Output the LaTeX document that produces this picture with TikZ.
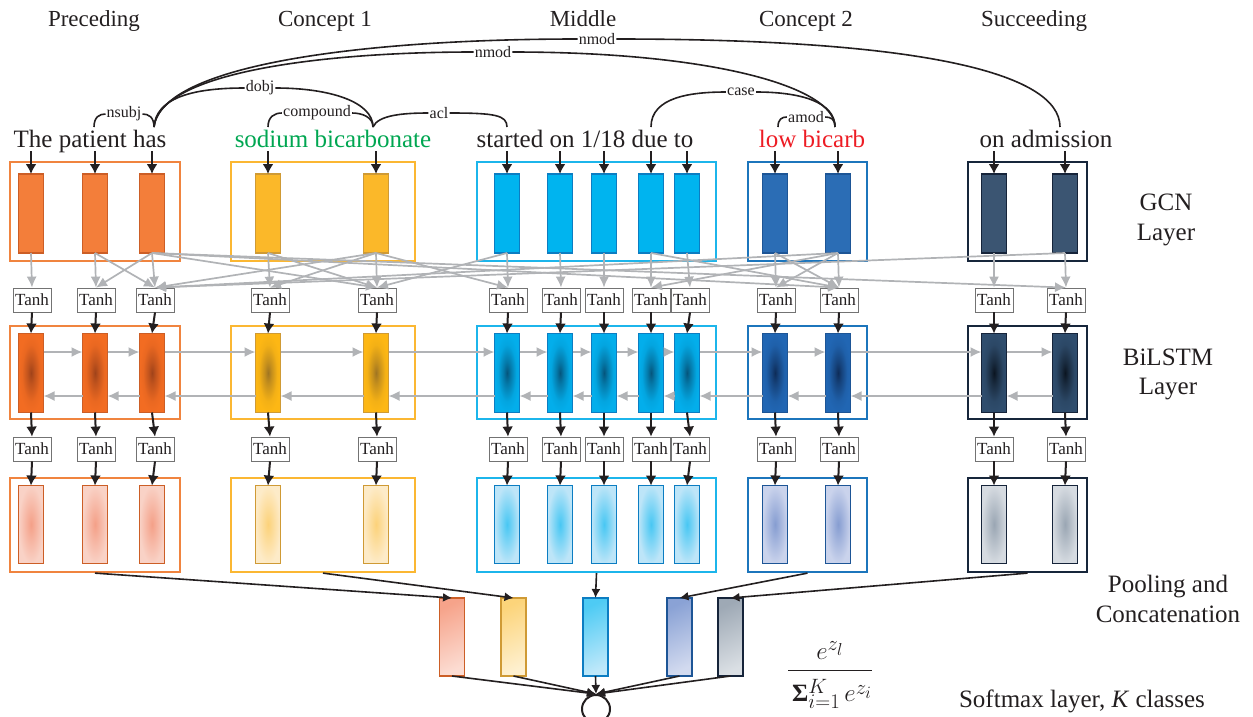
\documentclass[tikz,border=0pt]{standalone}
\usepackage{fontspec}
\setmainfont{Liberation Serif}
\usetikzlibrary{arrows.meta,backgrounds}

\definecolor{ink}{HTML}{231F20}
\definecolor{arrowgray}{HTML}{B1B3B6}
\definecolor{wgreen}{HTML}{00A651}
\definecolor{wred}{HTML}{ED1C24}
% group colours: rc = frame, fl = GCN fill, bd = bar border,
% li/lo = BiLSTM inner/outer, oi/oo = output inner/outer, qt/qb = pooled top/bottom
\definecolor{rcP}{HTML}{F0843F}\definecolor{flP}{HTML}{F37E3A}\definecolor{bdP}{HTML}{CC5E26}
\definecolor{liP}{HTML}{A0431A}\definecolor{loP}{HTML}{F26C22}
\definecolor{oiP}{HTML}{F4A088}\definecolor{ooP}{HTML}{F9D2C6}
\definecolor{qtP}{HTML}{F6A38A}\definecolor{qbP}{HTML}{FCDCD2}
\definecolor{rcC}{HTML}{FBB732}\definecolor{flC}{HTML}{FBB829}\definecolor{bdC}{HTML}{CF9A35}
\definecolor{liC}{HTML}{A07522}\definecolor{loC}{HTML}{FDB714}
\definecolor{oiC}{HTML}{FCD27A}\definecolor{ooC}{HTML}{FDEBC8}
\definecolor{qtC}{HTML}{FCD47A}\definecolor{qbC}{HTML}{FEF0CF}
\definecolor{rcM}{HTML}{1CB5EB}\definecolor{flM}{HTML}{00B4EF}\definecolor{bdM}{HTML}{0C7DC2}
\definecolor{liM}{HTML}{05557C}\definecolor{loM}{HTML}{03AEEB}
\definecolor{oiM}{HTML}{48C7F3}\definecolor{ooM}{HTML}{BDE5F8}
\definecolor{qtM}{HTML}{4ECBF4}\definecolor{qbM}{HTML}{BEE8FA}
\definecolor{rcD}{HTML}{1C75BC}\definecolor{flD}{HTML}{2B6DB5}\definecolor{bdD}{HTML}{1D5596}
\definecolor{liD}{HTML}{0E2C58}\definecolor{loD}{HTML}{2166B3}
\definecolor{oiD}{HTML}{869DD1}\definecolor{ooD}{HTML}{CAD3EC}
\definecolor{qtD}{HTML}{8AA2D5}\definecolor{qbD}{HTML}{D2DAEF}
\definecolor{rcS}{HTML}{17263B}\definecolor{flS}{HTML}{3B5572}\definecolor{bdS}{HTML}{16243A}
\definecolor{liS}{HTML}{0B1521}\definecolor{loS}{HTML}{2F4D6D}
\definecolor{oiS}{HTML}{9AA6B3}\definecolor{ooS}{HTML}{D6DBE1}
\definecolor{qtS}{HTML}{9EA9B5}\definecolor{qbS}{HTML}{DADFE4}

% working colours for the two radial shadings
\colorlet{lsin}{liP}\colorlet{lsout}{loP}
\colorlet{osin}{oiP}\colorlet{osout}{ooP}
\pgfdeclareradialshading[lsin,lsout]{lstmshade}{\pgfpoint{0bp}{0bp}}{%
  color(0bp)=(lsin); color(7bp)=(lsin!60!lsout); color(18bp)=(lsout!90!lsin);
  color(25bp)=(lsout); color(50bp)=(lsout)}
\pgfdeclareradialshading[osin,osout]{outshade}{\pgfpoint{0bp}{0bp}}{%
  color(0bp)=(osin); color(25bp)=(osout); color(50bp)=(osout)}

\newcommand\ttlfont{\fontsize{23}{27}\selectfont}
\newcommand\wordfont{\fontsize{25}{29}\selectfont}
\newcommand\layfont{\fontsize{25}{29}\selectfont}
\newcommand\deplfont{\fontsize{16}{18}\selectfont}
\newcommand\tanhfont{\fontsize{17}{19}\selectfont}

\begin{document}
\begin{tikzpicture}[x=1pt,y=-1pt,
  bar/.style={line width=1.6pt, minimum width=25, minimum height=79, inner sep=0pt, outer sep=0pt},
  grp/.style={draw, line width=2.2pt, minimum height=99, inner sep=0pt},
  tanhbox/.style={draw=black!55, line width=0.8pt, fill=white, font=\tanhfont, text=ink,
    minimum width=38, minimum height=24, inner sep=1pt},
  blk/.style={line width=2pt, draw=ink, -{Latex[length=10pt,width=11pt]}},
  gry/.style={line width=1.7pt, draw=arrowgray, -{Latex[length=11pt,width=10pt]}},
  pool/.style={line width=1.6pt, draw=ink, -{Latex[length=9pt,width=9pt]}},
  dep/.style={line width=1.6pt, draw=ink},
  deplab/.style={fill=white, inner sep=1pt, font=\deplfont, text=ink},
  ttl/.style={anchor=base, font=\ttlfont, text=ink},
  word/.style={anchor=base, font=\wordfont, text=ink},
  lay/.style={anchor=base, font=\layfont, text=ink},
]
\clip (0,0) rectangle (1253,716);

% column headings
\node[ttl] (h-P) at (94,26) {Preceding};
\node[ttl] (h-C) at (325,26) {Concept 1};
\node[ttl] (h-M) at (583,26) {Middle};
\node[ttl] (h-D) at (806,26) {Concept 2};
\node[ttl] (h-S) at (1034,26) {Succeeding};

% sentence
\node[word] (s-P) at (90,147) {The patient has};
\node[word, text=wgreen] (s-C) at (333,147) {sodium bicarbonate};
\node[word] (s-M) at (585,147) {started on 1/18 due to};
\node[word, text=wred] (s-D) at (812,147) {low bicarb};
\node[word] (s-S) at (1046,147) {on admission};

% dependency arcs
\coordinate (w-patient) at (94,127);
\coordinate (w-has) at (154,127);
\coordinate (w-sodium) at (268,127);
\coordinate (w-bicarbonate) at (373,127);
\coordinate (w-started) at (507,127);
\coordinate (w-due) at (651,127);
\coordinate (w-low) at (778,127);
\coordinate (w-bicarb) at (835,127);
\coordinate (w-admission) at (1060,127);

\node[deplab] (d-nsubj) at (124,114) {nsubj};
\node[deplab] (d-dobj) at (260,88) {dobj};
\node[deplab] (d-compound) at (317,113) {compound};
\node[deplab] (d-acl) at (439,113) {acl};
\node[deplab] (d-nmodA) at (493,52) {nmod};
\node[deplab] (d-nmodB) at (597,39) {nmod};
\node[deplab] (d-case) at (741,92) {case};
\node[deplab] (d-amod) at (806,117) {amod};

\begin{scope}[on background layer]
\draw[dep] (w-patient) .. controls +(0,-10) and +(-6,0) .. (d-nsubj.west);
\draw[dep] (d-nsubj.east) .. controls +(6,0) and +(0,-10) .. (w-has);
\draw[dep] (w-has) .. controls +(2,-28) and +(-55,0) .. (d-dobj.west);
\draw[dep] (d-dobj.east) .. controls +(55,0) and +(0,-25) .. (w-bicarbonate);
\draw[dep] (w-sodium) .. controls +(0,-10) and +(-8,0) .. (d-compound.west);
\draw[dep] (d-compound.east) .. controls +(10,0) and +(0,-10) .. (w-bicarbonate);
\draw[dep] (w-bicarbonate) .. controls +(5,-12) and +(-25,0) .. (d-acl.west);
\draw[dep] (d-acl.east) .. controls +(45,0) and +(0,-12) .. (w-started);
\draw[dep] (w-has) .. controls +(5,-55) and +(-150,0) .. (d-nmodA.west);
\draw[dep] (d-nmodA.east) .. controls +(200,0) and +(0,-40) .. (w-bicarb);
\draw[dep] (w-has) .. controls +(8,-65) and +(-200,0) .. (d-nmodB.west);
\draw[dep] (d-nmodB.east) .. controls +(300,0) and +(0,-55) .. (w-admission);
\draw[dep] (w-due) .. controls +(0,-30) and +(-35,0) .. (d-case.west);
\draw[dep] (d-case.east) .. controls +(45,0) and +(0,-25) .. (w-bicarb);
\draw[dep] (w-low) .. controls +(0,-8) and +(-5,0) .. (d-amod.west);
\draw[dep] (d-amod.east) .. controls +(6,0) and +(0,-8) .. (w-bicarb);
\end{scope}

% group frames for the three stacked layers
\foreach \cc/\cx/\w in {P/95/170, C/323/184, M/596.5/239, D/807.5/119, S/1027.5/119} {
  \node[grp, draw=rc\cc, minimum width=\w] (G-\cc) at (\cx,211.5) {};
  \node[grp, draw=rc\cc, minimum width=\w, minimum height=93] (L-\cc) at (\cx,372.5) {};
  \node[grp, draw=rc\cc, minimum width=\w, minimum height=94] (O-\cc) at (\cx,525) {};
}

% token columns: GCN unit, Tanh, BiLSTM unit, Tanh, output unit
\foreach \n/\x/\cc/\tx in {p1/31/P/32, p2/95/P/96, p3/152/P/155, c1/268/C/270, c2/376/C/377,
  m1/507/M/508, m2/560/M/561, m3/604/M/604, m4/651/M/651, m5/687/M/690,
  d1/775/D/776, d2/838/D/839, s1/994/S/994, s2/1065/S/1066} {
  \colorlet{lsin}{li\cc}\colorlet{lsout}{lo\cc}
  \colorlet{osin}{oi\cc}\colorlet{osout}{oo\cc}
  \node[bar, draw=bd\cc, fill=fl\cc] (g-\n) at (\x,213.5) {};
  \node[tanhbox] (t-\n) at (\tx,300) {Tanh};
  \node[bar, draw=bd\cc, shade, shading=lstmshade] (l-\n) at (\x,373) {};
  \node[tanhbox] (u-\n) at (\tx,449) {Tanh};
  \node[bar, draw=bd\cc, shade, shading=outshade, minimum height=78] (o-\n) at (\x,524.5) {};
  \coordinate (in-\n) at (\x,151);
  \draw[blk] (in-\n) -- (g-\n.north);
  \draw[gry] (g-\n.south) -- (t-\n.north);
  \draw[blk] (t-\n.south) -- (l-\n.north);
  \draw[blk] (l-\n.south) -- (u-\n.north);
  \draw[blk] (u-\n.south) -- (o-\n.north);
}

% graph convolution: each dependency feeds both endpoints
\foreach \a/\b in {p2/p3, p3/c2, c1/c2, c2/m1, p3/s2, p3/d2, d2/m4, d2/d1} {
  \draw[gry] (g-\a.south) -- (t-\b.north);
  \draw[gry] (g-\b.south) -- (t-\a.north);
}

% bidirectional recurrence
\foreach \a/\b in {p1/p2, p2/p3, p3/c1, c1/c2, c2/m1, m1/m2, m2/m3, m3/m4, m4/m5,
  m5/d1, d1/d2, d2/s1, s1/s2} {
  \draw[gry] ([yshift=21pt]l-\a.east) -- ([yshift=21pt]l-\b.west);
  \draw[gry] ([yshift=-23pt]l-\b.west) -- ([yshift=-23pt]l-\a.east);
}

% pooled vectors and softmax
\node[circle, draw=ink, line width=2pt, minimum size=28, inner sep=0pt] (soft) at (596,709) {};
\foreach \cc/\x in {P/452, C/513.5, M/595.5, D/679.5, S/730.5} {
  \node[bar, draw=bd\cc, top color=qt\cc, bottom color=qb\cc, shading angle=25, minimum height=78] (q-\cc) at (\x,637) {};
  \draw[pool] (O-\cc.south) -- (q-\cc.north);
  \draw[pool] (q-\cc.south) -- (soft.north);
}

% layer captions
\node[lay] (cap-gcn1) at (1166,210) {GCN};
\node[lay] (cap-gcn2) at (1166,240) {Layer};
\node[lay] (cap-lstm1) at (1168,365) {BiLSTM};
\node[lay] (cap-lstm2) at (1168,394) {Layer};
\node[lay] (cap-pool1) at (1168,592) {Pooling and};
\node[lay] (cap-pool2) at (1168,622) {Concatenation};
\node[lay] (cap-soft) at (1082,707) {Softmax layer, \textit{K} classes};
\node[font=\Huge, text=ink, inner sep=0pt] (formula) at (830,675)
  {$\displaystyle\frac{e^{z_l}}{\rule{0pt}{30pt}\mathop{\mbox{\textbf{Σ}}}\nolimits_{i=1}^{K} e^{z_i}}$};
\end{tikzpicture}
\end{document}
